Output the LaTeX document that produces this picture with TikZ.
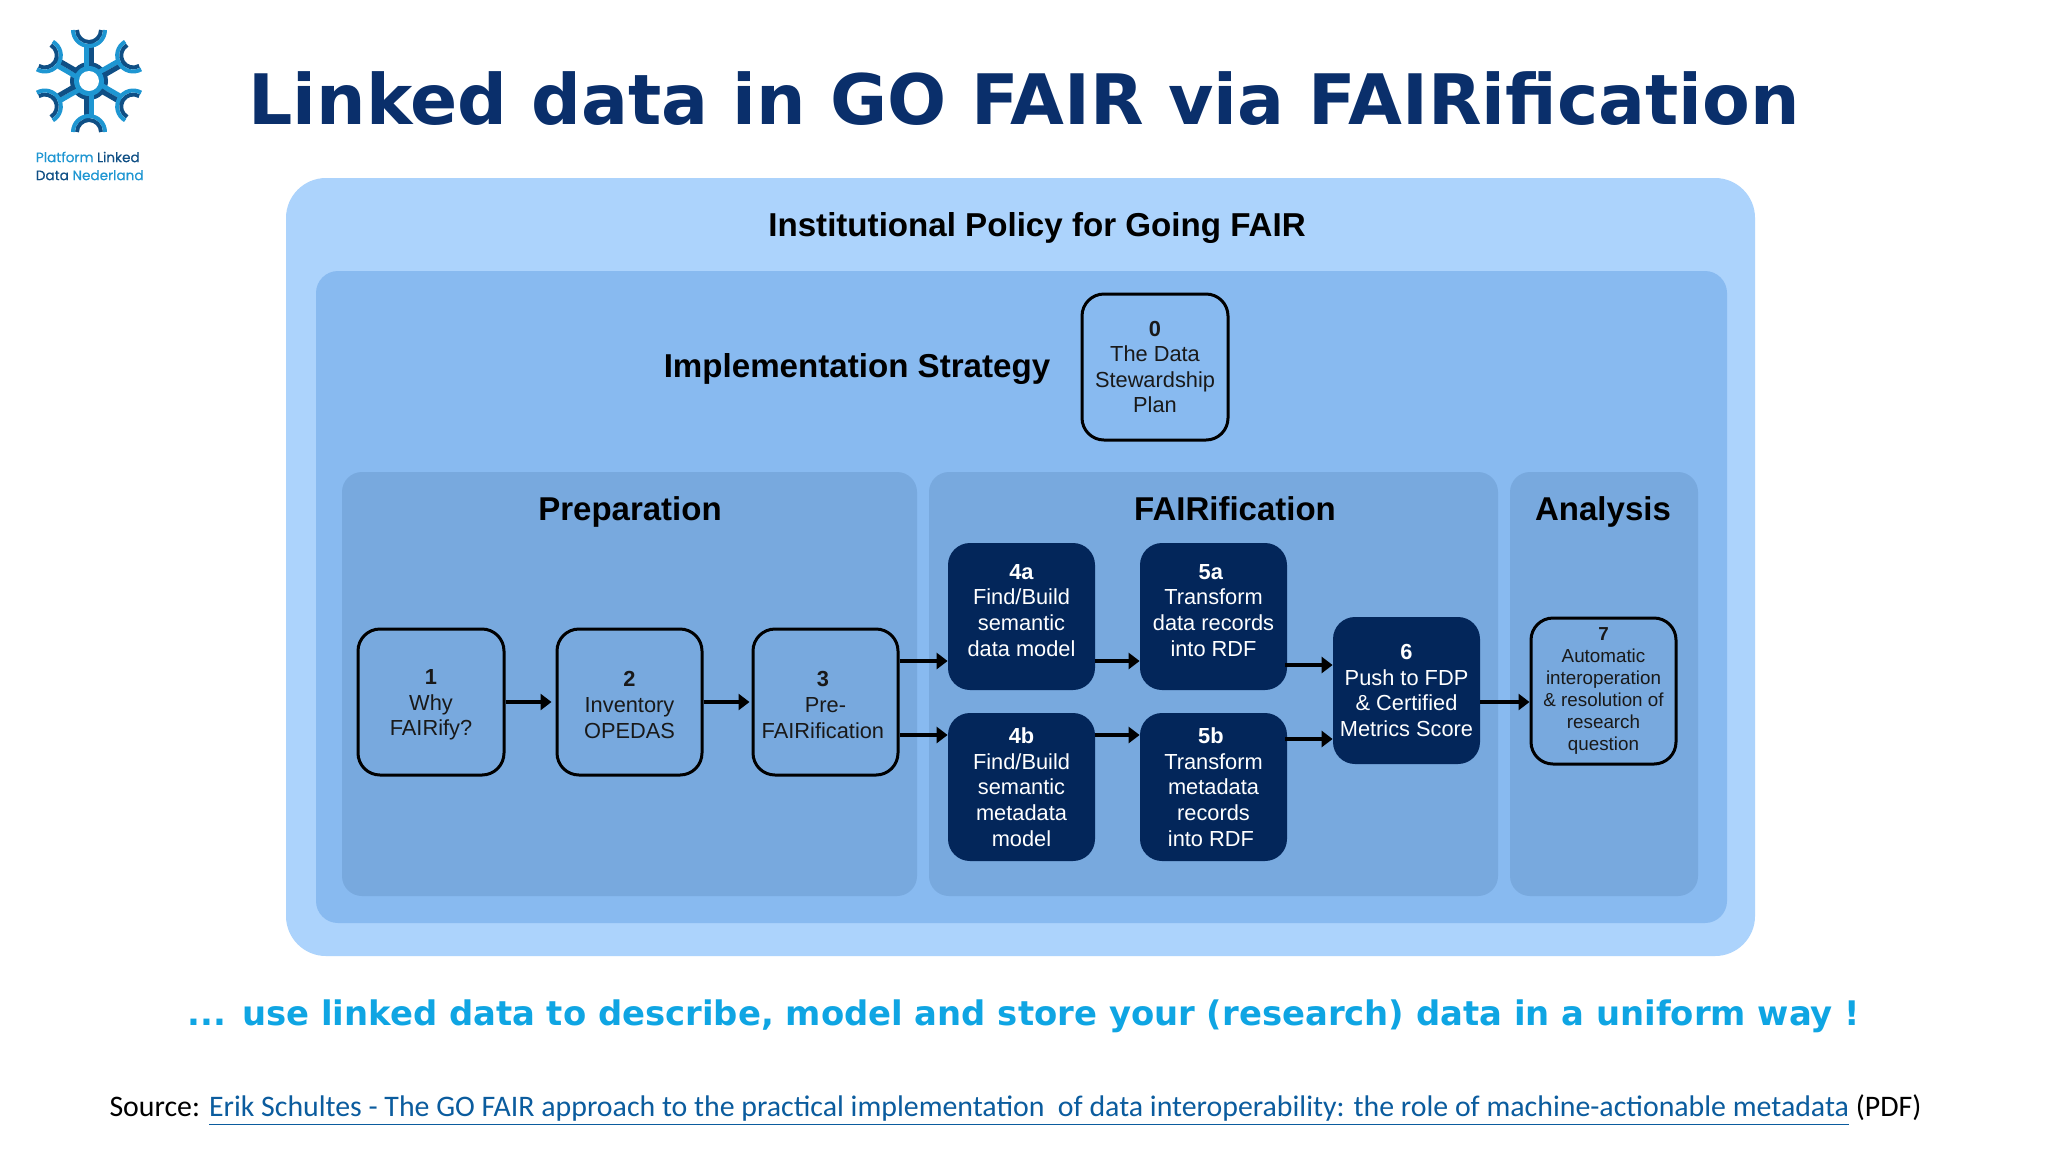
\documentclass[tikz,border=0pt]{standalone}
\usepackage{fontspec}
\setmainfont{Liberation Sans}
\newfontfamily\titlefont{DejaVu Sans}
\newfontfamily\srcfont{Carlito}
\newfontfamily\logofont{Poppins}
\usetikzlibrary{arrows.meta}
\definecolor{outerc}{HTML}{ACD3FC}
\definecolor{innerc}{HTML}{88BAF0}
\definecolor{panelc}{HTML}{78A9DE}
\definecolor{darkc}{HTML}{03265A}
\definecolor{titlec}{HTML}{0A2F6B}
\definecolor{tagc}{HTML}{0FA5E3}
\definecolor{linkc}{HTML}{0B5C9E}
\definecolor{logol}{HTML}{1E96D2}
\definecolor{logod}{HTML}{0F4F85}
\tikzset{
  panel/.style={rectangle,inner sep=0pt,rounded corners=#1},
  outerpanel/.style={panel=20pt,fill=outerc},
  innerpanel/.style={panel=11pt,fill=innerc},
  phase/.style={panel=10pt,fill=panelc},
  stepbox/.style={panel=11pt,draw=black,line width=1.5pt,align=center,font=\fontsize{10.9}{12.8}\selectfont,text=black!90},
  smallbox/.style={stepbox,font=\fontsize{9.4}{11}\selectfont},
  darkbox/.style={panel=11pt,fill=darkc,align=center,font=\fontsize{10.9}{12.8}\selectfont,text=white},
  heading/.style={font=\fontsize{#1}{#1}\selectfont\bfseries,text=black,inner sep=0pt,anchor=base},
  flow/.style={draw=black,line width=1.8pt,-{Triangle[length=5.5pt,width=8pt]},shorten >=0pt},
}
\newcommand{\rs}{\hspace*{2.6pt}}
\newcommand{\st}{\rule{0pt}{10.6pt}}
\newcommand{\bx}[7]{%
  \pgfmathsetmacro{\bxcx}{(#3+#5)/2}\pgfmathsetmacro{\bxcy}{(#4+#6)/2}%
  \pgfmathsetmacro{\bxw}{(#5-#3)*0.5}\pgfmathsetmacro{\bxh}{(#6-#4)*0.5}%
  \node[#2,minimum width=\bxw pt,minimum height=\bxh pt] (#1) at (\bxcx,\bxcy) {#7};}
\begin{document}
\begin{tikzpicture}[x=0.5pt,y=-0.5pt]
\useasboundingbox (0,0) rectangle (2048,1152);
\fill[white] (0,0) rectangle (2048,1152);
% logo
\begin{scope}[shift={(89,81)}]
  \fill[logod] (0,0) circle (19);
  \foreach \a in {0,60,...,300}{
    \begin{scope}[rotate=\a]
      \fill[logol] (-5,-13) rectangle (0,-36);
      \fill[logod] (0,-13) rectangle (5,-38);
      \draw[logod,line width=2pt] (12,-51) arc[start angle=0,end angle=180,radius=12];
      \draw[logol,line width=2pt] (16,-51) arc[start angle=0,end angle=180,radius=16];
    \end{scope}
  }
  \fill[logol] (0,0) circle (15);
  \fill[white] (0,0) circle (10);
\end{scope}
\node[inner sep=0pt,font=\logofont\fontsize{6.8}{9}\selectfont\addfontfeatures{FakeBold=0.3},align=left,anchor=west] (logotext) at (35.5,166)
  {\textcolor{logol}{Platform} \textcolor{logod}{Linked}\\\textcolor{logod}{Data} \textcolor{logol}{Nederland}};
% title
\node[inner sep=0pt,font=\titlefont\fontsize{34.8}{34.8}\selectfont\bfseries,text=titlec] (title) at (1024,99) {Linked data in GO FAIR via FAIRification};
% panels
\bx{outer}{outerpanel}{286}{178}{1755}{956}{}
\bx{inner}{innerpanel}{316}{271}{1727}{923}{}
\bx{prep}{phase}{342}{472}{917}{896}{}
\bx{fair}{phase}{929}{472}{1498}{896}{}
\bx{anal}{phase}{1510}{472}{1698}{896}{}
\node[heading=16.56] (h0) at (1037,236) {Institutional Policy for Going FAIR};
\node[heading=16.56] (h1) at (857,377) {Implementation Strategy};
\node[heading=16.5] (h2) at (630,520) {Preparation};
\node[heading=16.5] (h3) at (1235,520) {FAIRification};
\node[heading=16.5] (h4) at (1603,520) {Analysis};
% boxes
\bx{n0}{stepbox}{1082}{294}{1228}{440}{\textbf{0}\\The Data\\Stewardship\\Plan}
\bx{n1}{stepbox}{358}{629}{504}{775}{\st\textbf{1}\\Why\\FAIRify?}
\bx{n2}{stepbox}{557}{629}{702}{775}{\st\textbf{2}\\Inventory\\OPEDAS}
\bx{n3}{stepbox}{753}{629}{898}{775}{\st\textbf{3}\rs\\Pre-\rs\\FAIRification\rs}
\bx{n4a}{darkbox}{948}{543}{1095}{690}{\textbf{4a}\\Find/Build\\semantic\\data model\\[-6.5pt]}
\bx{n4b}{darkbox}{948}{713}{1095}{861}{\textbf{4b}\\Find/Build\\semantic\\metadata\\model}
\bx{n5a}{darkbox}{1140}{543}{1287}{690}{\textbf{5a}\rs\\Transform\rs\\data records\rs\\into RDF\rs\\[-6.5pt]}
\bx{n5b}{darkbox}{1140}{713}{1287}{861}{\textbf{5b}\rs\\Transform\rs\\metadata\rs\\records\rs\\into RDF\rs}
\bx{n6}{darkbox}{1333}{617}{1480}{764}{\textbf{6}\\Push to FDP\\\& Certified\\Metrics Score}
\bx{n7}{smallbox}{1531}{618}{1676}{764}{\textbf{7}\\Automatic\\interoperation\\\& resolution of\\research\\question}
% connectors
\draw[flow] (n1.east) -- ([xshift=-2pt]n2.west);
\draw[flow] (n2.east) -- ([xshift=-1pt]n3.west);
\draw[flow] ([yshift=20.5pt]n3.east) -- ([yshift=-22.25pt]n4a.west);
\draw[flow] ([yshift=-16.5pt]n3.east) -- ([yshift=26pt]n4b.west);
\draw[flow] ([yshift=-22.25pt]n4a.east) -- ([yshift=-22.25pt]n5a.west);
\draw[flow] ([yshift=26pt]n4b.east) -- ([yshift=26pt]n5b.west);
\draw[flow] ([yshift=-24.25pt,xshift=-1pt]n5a.east) -- ([yshift=12.75pt]n6.west);
\draw[flow] ([yshift=24pt,xshift=-1pt]n5b.east) -- ([yshift=-24.25pt]n6.west);
\draw[flow] ([yshift=-5.75pt]n6.east) -- ([yshift=-5.5pt]n7.west);
% tagline
\node[inner sep=0pt,font=\titlefont\fontsize{16.93}{16.93}\selectfont\bfseries,text=tagc] (tag) at (1024,1016) {... use linked data to describe, model and store your (research) data in a uniform way !};
% source
\node[inner sep=0pt,font=\srcfont\fontsize{14.92}{14.92}\selectfont,text=black] (src) at (1015.5,1110) {Source: \textcolor{linkc}{\underline{Erik Schultes - The GO FAIR approach to the practical implementation\ \ of data interoperability: the role of machine-actionable metadata}} (PDF)};
\end{tikzpicture}
\end{document}
